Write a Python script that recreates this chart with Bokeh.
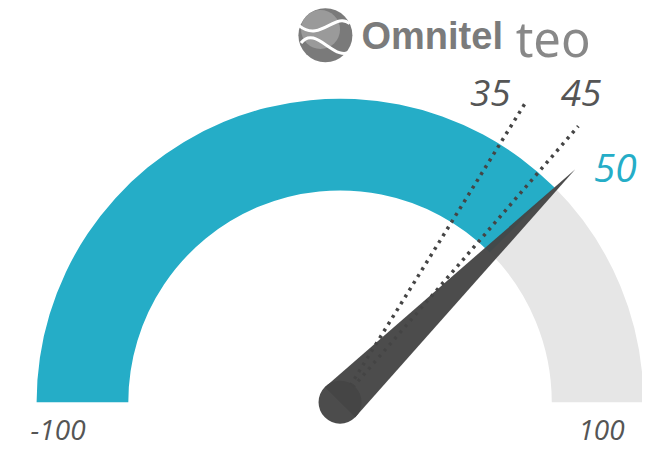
import math
from bokeh.plotting import figure
from bokeh.models import Range1d
from bokeh.core.properties import value
from bokeh.embed import file_html
from bokeh.resources import INLINE

# ---- data ----
gauge_min = -100
gauge_max = 100
gauge_value = 50
marker_values = [35, 45]
marker_labels = ["35", "45"]
value_label = "50"
end_labels = ["-100", "100"]
brand_names = ["Omnitel", "teo"]

TEAL = "#25adc7"
GREY = "#e6e6e6"
DARK = "#454545"
TEXT = "#555555"

R_IN, R_OUT = 217, 311


def ang(v):
    return math.pi * (gauge_max - v) / (gauge_max - gauge_min)


# figure fits the window (8px page margin); data span mirrors the reference canvas
p = figure(width=642, height=448, output_backend="svg", toolbar_location=None,
           x_range=Range1d(-348, 310), y_range=Range1d(-48, 416),
           min_border=0, outline_line_color=None)
p.axis.visible = False
p.grid.visible = False
p.background_fill_color = "white"

# gauge bands
p.annular_wedge(x=0, y=0, inner_radius=R_IN, outer_radius=R_OUT,
                start_angle=ang(gauge_max), end_angle=ang(gauge_value),
                fill_color=GREY, line_color=None)
p.annular_wedge(x=0, y=0, inner_radius=R_IN, outer_radius=R_OUT,
                start_angle=ang(gauge_value), end_angle=ang(gauge_min),
                fill_color=TEAL, line_color=None)

# dotted markers
ends = [362, 376]
for v, r_end in zip(marker_values, ends):
    a = ang(v)
    p.line([20 * math.cos(a), r_end * math.cos(a)],
           [20 * math.sin(a), r_end * math.sin(a)],
           line_color=DARK, line_width=3.5, line_dash="3 5")

# needle
a = ang(gauge_value)
tip = 341
hw = 22
xs = [tip * math.cos(a), hw * math.cos(a + math.pi / 2), hw * math.cos(a - math.pi / 2)]
ys = [tip * math.sin(a), hw * math.sin(a + math.pi / 2), hw * math.sin(a - math.pi / 2)]
p.patch(xs, ys, fill_color=DARK, line_color=None, fill_alpha=0.96)
p.scatter(x=[0], y=[0], size=43, marker="circle", fill_color=DARK, line_color=None, fill_alpha=0.96)

hand = value("Open Sans")
# marker labels
p.text(x=[154, 247], y=[320, 320], text=marker_labels, text_font=hand,
       text_font_size="37px", text_font_style="italic", text_color=TEXT,
       text_align="center", text_baseline="middle")
p.text(x=[282], y=[243], text=[value_label], text_font=hand,
       text_font_size="39px", text_font_style="italic", text_color=TEAL,
       text_align="center", text_baseline="middle")
p.text(x=[-289, 268], y=[-29, -29], text=end_labels, text_font=hand,
       text_font_size="28px", text_font_style="italic", text_color=TEXT,
       text_align="center", text_baseline="middle")

# brand logo
p.scatter(x=[-15], y=[380], size=54, marker="circle", fill_color="#7a7a7a", line_color=None)
p.scatter(x=[-20], y=[386], size=39, marker="circle", fill_color="#9a9a9a", line_color=None)
p.bezier(x0=[-42, -40], y0=[390, 372], x1=[10, 12], y1=[392, 364],
         cx0=[-20, -25], cy0=[372, 392], cx1=[-5, -5], cy1=[405, 350],
         line_color="white", line_width=3)
p.text(x=[22], y=[379], text=[brand_names[0]], text_font=value("Liberation Sans"),
       text_font_size="38px", text_font_style="bold", text_color="#7b7b7b",
       text_align="left", text_baseline="middle")
p.text(x=[180], y=[377], text=[brand_names[1]], text_font=value("Noto Sans"),
       text_font_size="49px", text_color="#888888",
       text_align="left", text_baseline="middle")

open("out.html", "w").write(file_html(p, INLINE))
